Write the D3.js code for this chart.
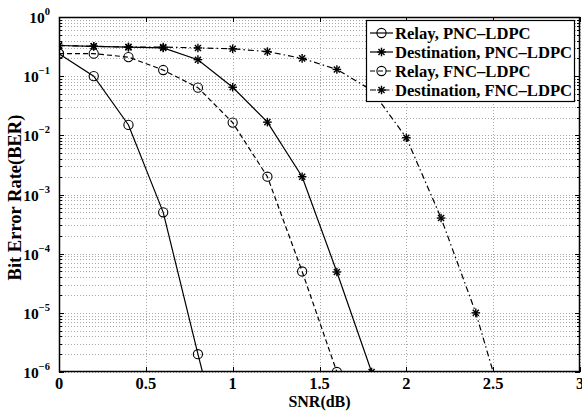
<!DOCTYPE html>
<html>
<head>
<meta charset="utf-8">
<script src="https://cdn.jsdelivr.net/npm/d3@7"></script>
<style>
html,body{margin:0;padding:0;background:#fff;}
svg{display:block;}
</style>
</head>
<body>
<svg id="chart" width="582" height="411"></svg>
<script>
// ---- data ----
const relayPNC_x = [0, 0.2, 0.4, 0.6, 0.8, 1.0];
const relayPNC_y = [0.24, 0.1, 0.015, 5e-4, 2e-6, 1e-8];
const destPNC_x = [0, 0.2, 0.4, 0.6, 0.8, 1.0, 1.2, 1.4, 1.6, 1.8];
const destPNC_y = [0.33, 0.32, 0.31, 0.30, 0.19, 0.065, 0.0167, 0.002, 4.9e-5, 1e-6];
const relayFNC_x = [0, 0.2, 0.4, 0.6, 0.8, 1.0, 1.2, 1.4, 1.6];
const relayFNC_y = [0.24, 0.24, 0.21, 0.127, 0.064, 0.0164, 0.002, 5e-5, 1e-6];
const destFNC_x = [0, 0.2, 0.4, 0.6, 0.8, 1.0, 1.2, 1.4, 1.6, 1.8, 2.0, 2.2, 2.4, 2.6];
const destFNC_y = [0.33, 0.32, 0.31, 0.31, 0.30, 0.29, 0.26, 0.20, 0.13, 0.058, 0.0091, 4e-4, 1e-5, 1e-7];
const seriesNames = ["Relay, PNC\u2013LDPC", "Destination, PNC\u2013LDPC", "Relay, FNC\u2013LDPC", "Destination, FNC\u2013LDPC"];
const xTicks = [0, 0.5, 1, 1.5, 2, 2.5, 3];
const xTickLabels = ["0", "0.5", "1", "1.5", "2", "2.5", "3"];
const yExponents = [0, -1, -2, -3, -4, -5, -6];
const xLabel = "SNR(dB)";
const yLabel = "Bit Error Rate(BER)";

const series = [
  {name: seriesNames[0], x: relayPNC_x, y: relayPNC_y, dash: null, marker: "circle"},
  {name: seriesNames[1], x: destPNC_x, y: destPNC_y, dash: null, marker: "star"},
  {name: seriesNames[2], x: relayFNC_x, y: relayFNC_y, dash: "5,3", marker: "circle"},
  {name: seriesNames[3], x: destFNC_x, y: destFNC_y, dash: "6,3,1.5,3", marker: "star"}
];

// ---- layout ----
const W = 582, H = 411;
const m = {left: 59, right: 2, top: 17, bottom: 39};
const pw = W - m.left - m.right, ph = H - m.top - m.bottom;
const FONT = "'Liberation Serif','Times New Roman',serif";

const svg = d3.select("#chart");
const g = svg.append("g").attr("transform", `translate(${m.left},${m.top})`);

const x = d3.scaleLinear().domain([0, 3]).range([0, pw]);
const y = d3.scaleLog().domain([1e-6, 1]).range([ph, 0]);

svg.append("defs").append("clipPath").attr("id", "clip")
  .append("rect").attr("x", 0).attr("y", 0).attr("width", pw).attr("height", ph);

// grid
const gridColor = "#a8a8a8";
const minorVals = [];
for (let e = -6; e < 0; e++) for (let k = 1; k <= 9; k++) minorVals.push(k * Math.pow(10, e));
minorVals.push(1);
g.append("g").selectAll("line").data(minorVals).join("line")
  .attr("x1", 0).attr("x2", pw)
  .attr("y1", d => Math.round(y(d)) + 0.5).attr("y2", d => Math.round(y(d)) + 0.5)
  .attr("stroke", gridColor).attr("stroke-width", 1).attr("stroke-dasharray", "1,2");
g.append("g").selectAll("line").data(xTicks).join("line")
  .attr("x1", d => Math.round(x(d)) + 0.5).attr("x2", d => Math.round(x(d)) + 0.5)
  .attr("y1", 0).attr("y2", ph)
  .attr("stroke", gridColor).attr("stroke-width", 1).attr("stroke-dasharray", "1,2");

// ticks (inward) on all sides
const tk = g.append("g").attr("stroke", "#000").attr("stroke-width", 1);
xTicks.forEach(v => {
  const xx = Math.round(x(v)) + 0.5;
  tk.append("line").attr("x1", xx).attr("x2", xx).attr("y1", ph).attr("y2", ph - 5);
  tk.append("line").attr("x1", xx).attr("x2", xx).attr("y1", 0).attr("y2", 5);
});
minorVals.forEach(v => {
  const yy = Math.round(y(v)) + 0.5;
  const major = Math.abs(Math.log10(v) - Math.round(Math.log10(v))) < 1e-9;
  const L = major ? 5 : 3;
  tk.append("line").attr("x1", 0).attr("x2", L).attr("y1", yy).attr("y2", yy);
  tk.append("line").attr("x1", pw).attr("x2", pw - L).attr("y1", yy).attr("y2", yy);
});

// data lines
const line = d3.line().x(d => x(d[0])).y(d => y(d[1]));
const dataG = g.append("g").attr("clip-path", "url(#clip)");
function drawMarker(sel, type, cx, cy) {
  if (type === "circle") {
    sel.append("circle").attr("cx", cx).attr("cy", cy).attr("r", 4.6)
      .attr("fill", "none").attr("stroke", "#000").attr("stroke-width", 1.1);
  } else {
    const r = 4.3, gg = sel.append("g").attr("stroke", "#000").attr("stroke-width", 1.4);
    [0, 45, 90, 135].forEach(a => {
      const rad = a * Math.PI / 180;
      gg.append("line")
        .attr("x1", cx - r * Math.cos(rad)).attr("y1", cy - r * Math.sin(rad))
        .attr("x2", cx + r * Math.cos(rad)).attr("y2", cy + r * Math.sin(rad));
    });
  }
}
series.forEach(s => {
  const pts = s.x.map((v, i) => [v, s.y[i]]);
  dataG.append("path").datum(pts).attr("d", line)
    .attr("fill", "none").attr("stroke", "#000").attr("stroke-width", 1.2)
    .attr("stroke-dasharray", s.dash);
  pts.forEach(p => drawMarker(dataG, s.marker, x(p[0]), y(p[1])));
});

// frame
g.append("rect").attr("x", 0.5).attr("y", 0.5).attr("width", pw - 1).attr("height", ph - 1)
  .attr("fill", "none").attr("stroke", "#000").attr("stroke-width", 1.5);

// x tick labels
g.append("g").selectAll("text").data(xTicks).join("text")
  .attr("x", d => x(d)).attr("y", ph + 16.5)
  .attr("text-anchor", "middle")
  .attr("font-family", FONT).attr("font-weight", "bold").attr("font-size", 16.5)
  .text((d, i) => xTickLabels[i]);

// y tick labels
yExponents.forEach(e => {
  const t = g.append("text").attr("x", -9).attr("y", y(Math.pow(10, e)) + 6)
    .attr("text-anchor", "end")
    .attr("font-family", FONT).attr("font-weight", "bold").attr("font-size", 15.5);
  t.append("tspan").text("10");
  t.append("tspan").attr("dy", -8).attr("font-size", 10.5).text(e === 0 ? "0" : "\u2212" + Math.abs(e));
});

// axis labels
svg.append("text").attr("x", m.left + pw / 2).attr("y", 407)
  .attr("text-anchor", "middle")
  .attr("font-family", FONT).attr("font-weight", "bold").attr("font-size", 16)
  .text(xLabel);
svg.append("text").attr("transform", `translate(21,${m.top + ph / 2 + 3}) rotate(-90)`)
  .attr("text-anchor", "middle")
  .attr("font-family", FONT).attr("font-weight", "bold").attr("font-size", 18.5)
  .text(yLabel);

// legend
const lg = svg.append("g");
const lx0 = 366, ly0 = 20, lw = 208, lh = 81;
lg.append("rect").attr("x", lx0 + 0.5).attr("y", ly0 + 0.5).attr("width", lw).attr("height", lh)
  .attr("fill", "#fff").attr("stroke", "#000").attr("stroke-width", 1.2);
const rowY = [33, 52, 71, 90];
series.forEach((s, i) => {
  const yy = rowY[i];
  lg.append("line").attr("x1", 370).attr("x2", 393).attr("y1", yy).attr("y2", yy)
    .attr("stroke", "#000").attr("stroke-width", 1.2).attr("stroke-dasharray", s.dash);
  drawMarker(lg, s.marker, 381.5, yy);
  lg.append("text").attr("x", 395).attr("y", yy + 5.5)
    .attr("font-family", FONT).attr("font-weight", "bold").attr("font-size", 16.6)
    .text(s.name);
});
</script>
</body>
</html>
